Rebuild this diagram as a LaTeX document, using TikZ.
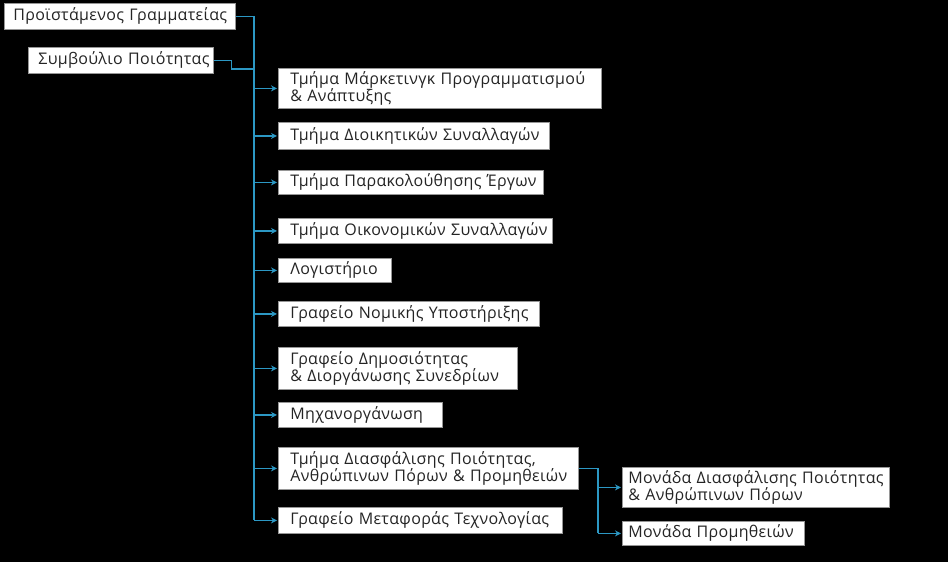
\documentclass[tikz,border=0pt]{standalone}
\usepackage{fontspec}
\setmainfont{Open Sans}[LetterSpace=2]
\usetikzlibrary{arrows.meta}
\definecolor{linkblue}{RGB}{44,152,196}
\definecolor{boxgray}{RGB}{150,150,150}
\definecolor{txtgray}{RGB}{36,36,36}
\tikzset{
  orgbox/.style={draw=boxgray, line width=0.8pt, fill=white, text=txtgray,
    anchor=north west, align=left, inner xsep=12pt, inner ysep=1pt,
    font=\fontsize{16}{17}\selectfont},
  link/.style={draw=linkblue, line width=1.3pt},
  arrowlink/.style={link, -{Stealth[length=6pt,width=6pt]}, shorten >=1pt}
}
\begin{document}
\begin{tikzpicture}[x=1pt,y=-1pt]
\fill[black] (0,0) rectangle (948,562);
\useasboundingbox (0,0) rectangle (948,562);

\node[orgbox, inner xsep=9pt, text width=213pt, minimum height=26pt] (A) at (4,3) {\mbox{Προϊστάμενος Γραμματείας}};
\node[orgbox, inner xsep=10pt, text width=165pt, minimum height=26pt] (B) at (28,47) {\mbox{Συμβούλιο Ποιότητας}};

\node[orgbox, text width=299pt, minimum height=40pt] (C1) at (278,68) {\mbox{Τμήμα Μάρκετινγκ Προγραμματισμού}\\\mbox{\& Ανάπτυξης}};
\node[orgbox, text width=247pt, minimum height=27pt] (C2) at (278,122) {\mbox{Τμήμα Διοικητικών Συναλλαγών}};
\node[orgbox, text width=241pt, minimum height=24pt] (C3) at (278,170) {\mbox{Τμήμα Παρακολούθησης Έργων}};
\node[orgbox, text width=250pt, minimum height=25pt] (C4) at (278,218) {\mbox{Τμήμα Οικονομικών Συναλλαγών}};
\node[orgbox, text width=89pt, minimum height=24pt] (C5) at (278,258) {\mbox{Λογιστήριο}};
\node[orgbox, text width=237pt, minimum height=25pt] (C6) at (278,301) {\mbox{Γραφείο Νομικής Υποστήριξης}};
\node[orgbox, text width=215pt, minimum height=42pt] (C7) at (278,347) {\mbox{Γραφείο Δημοσιότητας}\\\mbox{\& Διοργάνωσης Συνεδρίων}};
\node[orgbox, text width=140pt, minimum height=25pt] (C8) at (278,402) {\mbox{Μηχανοργάνωση}};
\node[orgbox, text width=276pt, minimum height=42pt] (C9) at (278,447) {\mbox{Τμήμα Διασφάλισης Ποιότητας,}\\\mbox{Ανθρώπινων Πόρων \& Προμηθειών}};
\node[orgbox, text width=260pt, minimum height=26pt] (C10) at (278,507) {\mbox{Γραφείο Μεταφοράς Τεχνολογίας}};

\node[orgbox, inner xsep=6pt, text width=255pt, minimum height=40pt] (D1) at (622,467) {\mbox{Μονάδα Διασφάλισης Ποιότητας}\\\mbox{\& Ανθρώπινων Πόρων}};
\node[orgbox, inner xsep=6pt, text width=170pt, minimum height=24pt] (D2) at (622,521) {\mbox{Μονάδα Προμηθειών}};

\coordinate (trunk) at (254,0);
\coordinate (bjoin) at (254,69);
\coordinate (sub) at (598,0);

\draw[link] (A.east) -| (trunk |- C10.west);
\draw[link] (B.east) -- ++(18,0) |- (bjoin);
\foreach \n in {C1,C2,C3,C4,C5,C6,C7,C8,C9,C10}
  \draw[arrowlink] (trunk |- \n.west) -- (\n.west);

\draw[link] (C9.east) -| (sub |- D2.west);
\foreach \n in {D1,D2}
  \draw[arrowlink] (sub |- \n.west) -- (\n.west);
\end{tikzpicture}
\end{document}
